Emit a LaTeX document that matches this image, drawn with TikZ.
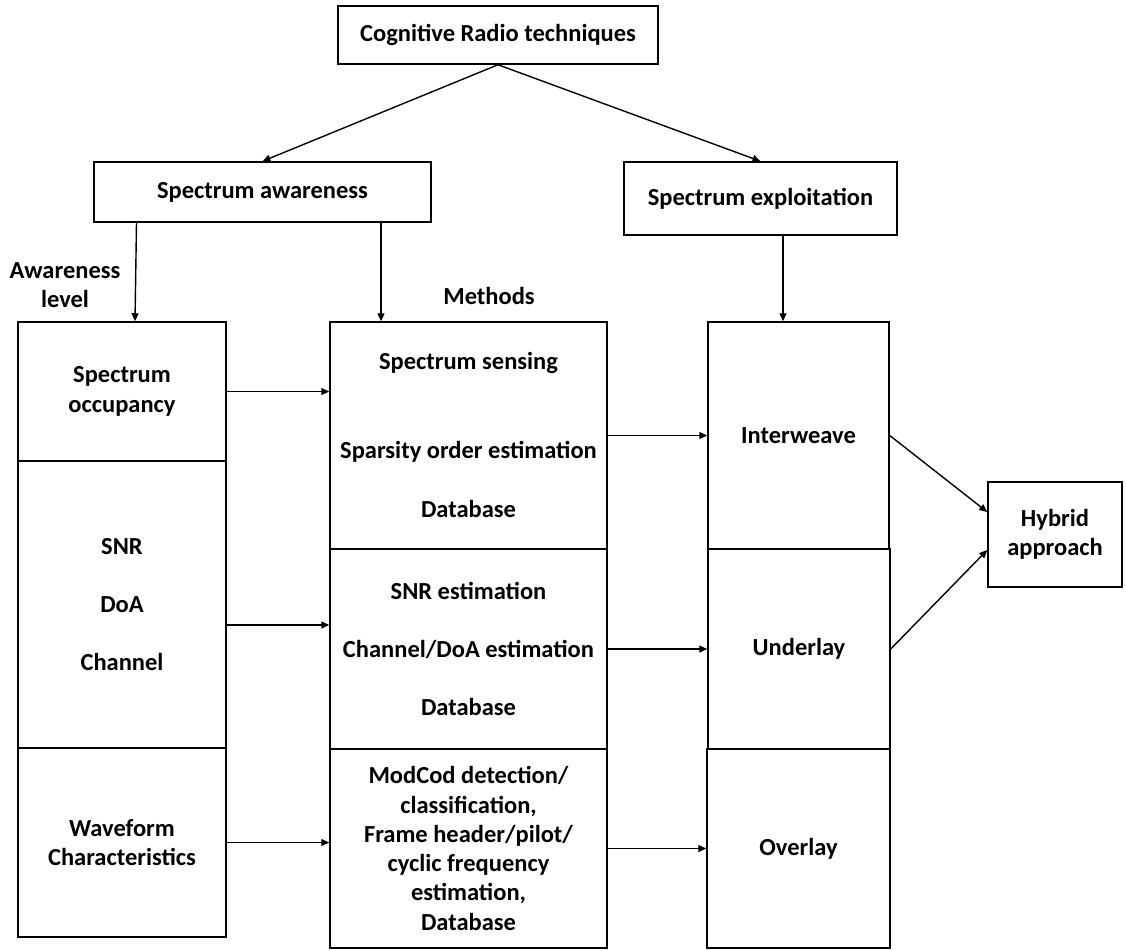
\documentclass[tikz,border=0pt]{standalone}
\usepackage{fontspec}
\setmainfont{Carlito}
\usetikzlibrary{arrows.meta,calc}
\begin{document}
\begin{tikzpicture}[x=1pt,y=-1pt,
  every node/.style={font=\fontsize{24.5}{29.3}\selectfont\bfseries, align=center, inner sep=0pt},
  box/.style={draw, line width=1.5pt, minimum width=#1},
  arr/.style={line width=1.4pt, -{Triangle[length=8pt,width=7pt]}},
  ln/.style={line width=1.4pt}]
\useasboundingbox (0,0) rectangle (1126,950);
% top level
\node[box=320pt, minimum height=58pt] (cog) at (498,35) {Cognitive Radio techniques};
\node[box=337pt, minimum height=60pt] (aware) at (262.5,192) {Spectrum awareness};
\node[box=273pt, minimum height=73pt] (exploit) at (760.5,198.5) {Spectrum exploitation};
% labels
\node (awl) at (65,285) {Awareness\\level};
\node (meth) at (489,296) {Methods};
% left column
\node[box=208pt, minimum height=139pt] (occ) at (122,391.5) {Spectrum\\occupancy};
\node[box=208pt, minimum height=287pt] (snr) at (122,604.5) {SNR\\[29pt]DoA\\[29pt]Channel};
\node[box=208pt, minimum height=189pt] (wave) at (122,842.5) {Waveform\\Characteristics};
% middle column
\node[box=277pt, minimum height=227pt] (sense) at (468.5,435.5) {};
\node (t1) at (468.5,363) {Spectrum sensing};
\node (t2) at (468.5,452) {Sparsity order estimation};
\node (t3) at (468.5,509) {Database};
\node[box=277pt, minimum height=200pt] (est) at (468.5,649) {SNR estimation\\[29pt]Channel/DoA estimation\\[29pt]Database};
\node[box=277pt, minimum height=199pt] (mod) at (468.5,848.5) {ModCod detection/\\classification,\\Frame header/pilot/\\cyclic frequency\\estimation,\\Database};
% right column
\node[box=181pt, minimum height=227pt] (inter) at (798.5,435.5) {Interweave};
\node[box=182pt, minimum height=200pt] (under) at (799,649) {Underlay};
\node[box=183pt, minimum height=199pt] (over) at (798.5,848.5) {Overlay};
% hybrid
\node[box=134pt, minimum height=105pt] (hyb) at (1055,534.5) {Hybrid\\approach};
% connectors
\draw[arr] (cog.south) -- (aware.north);
\draw[arr] (cog.south) -- (exploit.north);
\draw[arr] ([xshift=-126pt]aware.south) -- ([xshift=13pt]occ.north);
\draw[arr] ([xshift=-87.5pt]sense.north |- aware.south) -- ([xshift=-87.5pt]sense.north);
\draw[arr] ([xshift=-15.5pt]inter.north |- exploit.south) -- ([xshift=-15.5pt]inter.north);
\draw[arr] (occ.east) -- (occ.east -| sense.west);
\draw[arr] ([yshift=-20.5pt]snr.east) -- ([yshift=-20.5pt]snr.east -| est.west);
\draw[arr] (wave.east) -- (wave.east -| mod.west);
\draw[arr] (sense.east) -- (inter.west);
\draw[arr] (est.east) -- (under.west);
\draw[arr] (mod.east) -- (over.west);
\draw[arr] (inter.east) -- ([yshift=22.5pt]hyb.west);
\draw[arr] (under.east) -- ([yshift=-15.5pt]hyb.west);
\end{tikzpicture}
\end{document}
